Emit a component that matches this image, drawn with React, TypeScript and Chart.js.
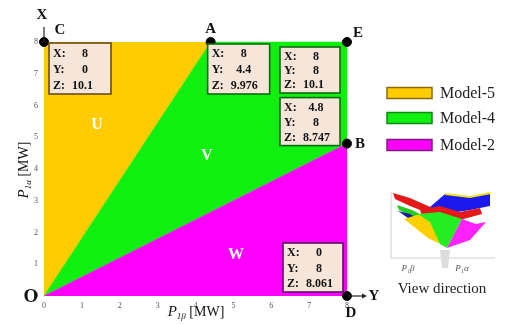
import { useEffect, useRef } from 'react';
import { Chart, registerables } from 'chart.js';
Chart.register(...registerables);

// ---- data ----
const modelNames = ['Model-5', 'Model-4', 'Model-2'];
const modelColors = ['#FFCC00', '#10F010', '#FF00FF'];
const modelBorders = ['#8a6a10', '#108a10', '#801a80'];

const model2Boundary = [{ x: 0, y: 0 }, { x: 8, y: 4.8 }];
const model4Boundary = [{ x: 0, y: 0 }, { x: 4.4, y: 8 }, { x: 8, y: 8 }];
const model5Boundary = [{ x: 0, y: 0 }, { x: 4.4, y: 8 }];

const cornerNames = ['C', 'A', 'E', 'B', 'D'];
const cornerX = [0, 4.4, 8, 8, 8];
const cornerY = [8, 8, 8, 4.8, 0];
const infoX = ['8', '8', '8', '4.8', '0'];
const infoY = ['0', '4.4', '8', '8', '8'];
const infoZ = ['10.1', '9.976', '10.1', '8.747', '8.061'];
const infoBorder = ['#6b4a14', '#0f6a0f', '#0f6a0f', '#0f6a0f', '#5a1060'];

const regionLabels = ['U', 'V', 'W'];
const regionX = [1.4, 4.3, 5.07];
const regionY = [5.4, 4.4, 1.3];

const axisTicks = [0, 1, 2, 3, 4, 5, 6, 7, 8];

const SERIF = '"Liberation Serif", "DejaVu Serif", serif';

// box placement relative to each corner point: [dx, dy, w, h]
const boxLayout = [
  [5, 1, 62, 51],
  [-3, 2, 62, 50],
  [-67, 5, 60, 46],
  [-67, -46, 60, 48],
  [-64, -53, 60, 49],
];
// corner letter offsets
const letterLayout = [
  [16, -12],
  [0, -13],
  [11, -9],
  [13, 1],
  [4, 17],
];

const decorPlugin = {
  id: 'decor',
  afterDraw(chart: any) {
    const ctx = chart.ctx as CanvasRenderingContext2D;
    const xs = chart.scales.x;
    const ys = chart.scales.y;
    ctx.save();

    // region letters
    ctx.fillStyle = '#ffffff';
    ctx.font = `bold 16px ${SERIF}`;
    ctx.textAlign = 'center';
    ctx.textBaseline = 'middle';
    regionLabels.forEach((t, i) => {
      ctx.fillText(t, xs.getPixelForValue(regionX[i]), ys.getPixelForValue(regionY[i]));
    });

    // info boxes
    cornerNames.forEach((_, i) => {
      const px = xs.getPixelForValue(cornerX[i]);
      const py = ys.getPixelForValue(cornerY[i]);
      const [dx, dy, w, h] = boxLayout[i];
      const bx = px + dx;
      const by = py + dy;
      ctx.fillStyle = '#f6e6da';
      ctx.fillRect(bx, by, w, h);
      ctx.strokeStyle = infoBorder[i];
      ctx.lineWidth = 1.6;
      ctx.strokeRect(bx, by, w, h);
      ctx.fillStyle = '#111';
      ctx.font = `bold 12px ${SERIF}`;
      ctx.textBaseline = 'middle';
      const lines = [['X:', infoX[i]], ['Y:', infoY[i]], ['Z:', infoZ[i]]];
      const lh = h / 3.2;
      lines.forEach(([k, v], j) => {
        const ly = by + lh * (j + 0.6) + 1;
        ctx.textAlign = 'left';
        ctx.fillText(k, bx + 4, ly);
        if (j < 2) {
          ctx.textAlign = 'center';
          ctx.fillText(v, bx + 36, ly);
        } else {
          ctx.textAlign = 'left';
          ctx.fillText(v, bx + 23, ly);
        }
      });
    });

    // corner points letters
    ctx.fillStyle = '#111';
    ctx.font = `bold 15px ${SERIF}`;
    ctx.textAlign = 'center';
    ctx.textBaseline = 'middle';
    cornerNames.forEach((t, i) => {
      const px = xs.getPixelForValue(cornerX[i]);
      const py = ys.getPixelForValue(cornerY[i]);
      ctx.fillText(t, px + letterLayout[i][0], py + letterLayout[i][1]);
    });

    const ox = xs.getPixelForValue(0);
    const oy = ys.getPixelForValue(0);
    const tx = ys.getPixelForValue(8);
    const rx = xs.getPixelForValue(8);
    ctx.font = `bold 19px ${SERIF}`;
    ctx.fillText('O', ox - 13, oy + 1);
    ctx.font = `bold 15px ${SERIF}`;
    ctx.fillText('X', ox - 2, tx - 27);
    ctx.fillText('Y', rx + 27, oy);

    // arrows
    ctx.strokeStyle = '#222';
    ctx.fillStyle = '#222';
    ctx.lineWidth = 1.2;
    ctx.beginPath();
    ctx.moveTo(ox, tx);
    ctx.lineTo(ox, tx - 15);
    ctx.stroke();
    ctx.beginPath();
    ctx.moveTo(rx, oy);
    ctx.lineTo(rx + 17, oy);
    ctx.stroke();
    ctx.beginPath();
    ctx.moveTo(rx + 20, oy);
    ctx.lineTo(rx + 15, oy - 2.5);
    ctx.lineTo(rx + 15, oy + 2.5);
    ctx.closePath();
    ctx.fill();

    // axis titles
    const drawTitle = (cx: number, cy: number, sub: string) => {
      const parts: [string, string, number][] = [
        ['P', `italic 15px ${SERIF}`, 0],
        [sub, `italic 9px ${SERIF}`, 3],
        [' [MW]', `14px ${SERIF}`, 0],
      ];
      let total = 0;
      parts.forEach(([t, f]) => {
        ctx.font = f;
        total += ctx.measureText(t).width;
      });
      let x = cx - total / 2;
      ctx.textAlign = 'left';
      ctx.textBaseline = 'alphabetic';
      ctx.fillStyle = '#111';
      parts.forEach(([t, f, off]) => {
        ctx.font = f;
        ctx.fillText(t, x, cy + off);
        x += ctx.measureText(t).width;
      });
    };
    drawTitle(196, 316, '1\u03b2');
    ctx.save();
    ctx.translate(28, 170);
    ctx.rotate(-Math.PI / 2);
    drawTitle(0, 0, '1\u03b1');
    ctx.restore();

    // legend
    modelNames.forEach((name, i) => {
      const ly = 93 + i * 25 + (i === 2 ? 2 : 0);
      ctx.fillStyle = modelColors[i];
      ctx.fillRect(387, ly - 5.5, 45, 11);
      ctx.strokeStyle = modelBorders[i];
      ctx.lineWidth = 1.5;
      ctx.strokeRect(387, ly - 5.5, 45, 11);
      ctx.fillStyle = '#222';
      ctx.font = `16px ${SERIF}`;
      ctx.textAlign = 'left';
      ctx.textBaseline = 'middle';
      ctx.fillText(name, 440, ly + 1);
    });

    // inset "view direction" sketch
    const poly = (pts: number[][], color: string) => {
      ctx.fillStyle = color;
      ctx.beginPath();
      pts.forEach(([a, b], k) => (k ? ctx.lineTo(a, b) : ctx.moveTo(a, b)));
      ctx.closePath();
      ctx.fill();
    };
    ctx.strokeStyle = '#cfcfcf';
    ctx.lineWidth = 1;
    ctx.beginPath();
    ctx.moveTo(391, 192);
    ctx.lineTo(391, 258);
    ctx.lineTo(495, 258);
    ctx.stroke();
    poly([[440, 250], [450, 250], [448, 268], [442, 268]], '#dddddd');
    poly([[393, 193], [410, 198], [428, 206], [438, 210], [430, 214], [410, 206], [395, 199]], '#e41a1a');
    poly([[397, 205], [412, 210], [424, 216], [420, 219], [405, 213], [399, 210]], '#22cc22');
    poly([[398, 211], [410, 214], [418, 219], [408, 218]], '#1a1aa0');
    poly([[430, 207], [445, 194], [470, 197], [490, 193], [490, 206], [470, 210], [445, 214]], '#1a1aee');
    poly([[445, 193], [470, 196], [490, 192], [491, 194], [470, 198], [445, 195]], '#f0e020');
    poly([[420, 210], [440, 206], [460, 212], [480, 208], [482, 214], [460, 220], [440, 214], [422, 216]], '#e41a1a');
    poly([[404, 219], [420, 214], [432, 222], [440, 244], [428, 238]], '#ffd000');
    poly([[418, 214], [440, 212], [462, 219], [447, 248], [440, 244], [430, 222]], '#22ee22');
    poly([[462, 219], [476, 224], [486, 222], [470, 240], [447, 248]], '#ff22ff');
    ctx.fillStyle = '#555';
    ctx.font = `italic 9px ${SERIF}`;
    ctx.textAlign = 'center';
    ctx.fillText('P\u2081\u03b2', 408, 269);
    ctx.fillText('P\u2081\u03b1', 462, 269);
    ctx.fillStyle = '#222';
    ctx.font = `15px ${SERIF}`;
    ctx.textBaseline = 'middle';
    ctx.fillText('View direction', 442, 289);

    ctx.restore();
  },
};

export default function App() {
  const ref = useRef<HTMLCanvasElement>(null);
  useEffect(() => {
    const chart = new Chart(ref.current!, {
      type: 'line',
      data: {
        datasets: [
          {
            label: 'corners',
            data: cornerX.map((x, i) => ({ x, y: cornerY[i] })),
            showLine: false,
            pointRadius: 4.5,
            pointBackgroundColor: '#000',
            pointBorderColor: '#000',
            fill: false,
          },
          {
            label: modelNames[2],
            data: model2Boundary,
            borderColor: modelColors[2],
            backgroundColor: modelColors[2],
            borderWidth: 0.5,
            pointRadius: 0,
            fill: 'origin',
          },
          {
            label: modelNames[1],
            data: model4Boundary,
            borderColor: modelColors[1],
            backgroundColor: modelColors[1],
            borderWidth: 0.5,
            pointRadius: 0,
            fill: '-1',
          },
          {
            label: modelNames[0],
            data: model5Boundary,
            borderColor: modelColors[0],
            backgroundColor: modelColors[0],
            borderWidth: 0.5,
            pointRadius: 0,
            fill: 'end',
          },
        ],
      },
      options: {
        responsive: false,
        animation: false,
        clip: false as any,
        layout: { padding: { top: 42, right: 158, bottom: 0, left: 0 } },
        plugins: { legend: { display: false }, tooltip: { enabled: false } },
        elements: { line: { tension: 0 } },
        scales: {
          x: {
            type: 'linear',
            min: 0,
            max: 8,
            grid: { display: false, drawTicks: false },
            border: { display: false },
            afterBuildTicks: (s: any) => {
              s.ticks = axisTicks.map((v) => ({ value: v }));
            },
            afterFit: (s: any) => {
              s.height = 28;
            },
            ticks: { font: { family: SERIF, size: 8 }, color: '#555', padding: 5 },
          },
          y: {
            type: 'linear',
            min: 0,
            max: 8,
            grid: { display: false, drawTicks: false },
            border: { display: false },
            afterBuildTicks: (s: any) => {
              s.ticks = axisTicks.map((v) => ({ value: v }));
            },
            afterFit: (s: any) => {
              s.width = 44;
            },
            ticks: { font: { family: SERIF, size: 8 }, color: '#555', padding: 6 },
          },
        },
      },
      plugins: [decorPlugin],
    });
    return () => chart.destroy();
  }, []);
  return (
    <div style={{ position: 'fixed', left: 0, top: 0, width: 505, height: 324, background: '#fff' }}>
      <canvas ref={ref} width={505} height={324} style={{ display: 'block' }} />
    </div>
  );
}
